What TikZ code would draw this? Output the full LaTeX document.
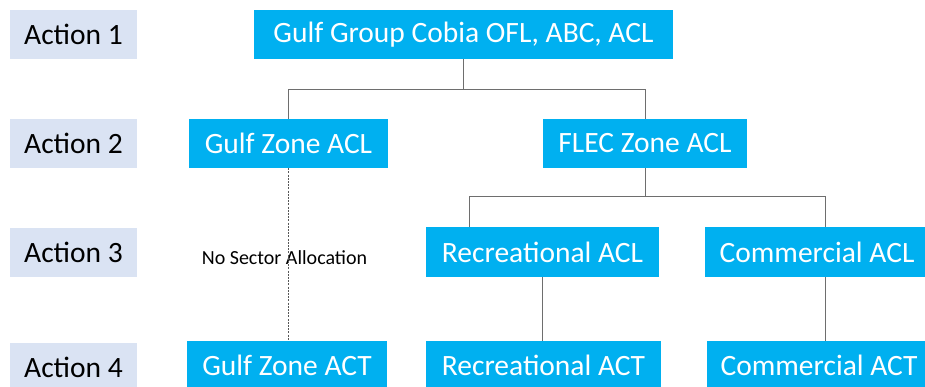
\documentclass[tikz,border=0pt]{standalone}
\usepackage{fontspec}
\setmainfont{Carlito}
\definecolor{boxblue}{HTML}{00B0F0}
\definecolor{actfill}{HTML}{DAE3F3}
\definecolor{linegray}{HTML}{6E6E6E}
\begin{document}
\begin{tikzpicture}[x=1pt,y=-1pt,
  bigtext/.style={font=\fontsize{29.5}{35}\selectfont},
  actbox/.style={bigtext,fill=actfill,text=black,inner sep=0pt,minimum width=127pt,minimum height=49pt},
  bluebox/.style={bigtext,fill=boxblue,text=white,inner sep=0pt,minimum height=49pt},
  conn/.style={draw=linegray,line width=0.9pt},
  dconn/.style={draw=linegray!80!black,line width=0.9pt,dash pattern=on 2pt off 1.2pt}]
\useasboundingbox (0,0) rectangle (925,386);
\clip (0,0) rectangle (925,386);
% action labels
\node[actbox] (a1) at (73.5,34) {Action 1};
\node[actbox] (a2) at (73.5,143.5) {Action 2};
\node[actbox] (a3) at (73.5,252) {Action 3};
\node[actbox] (a4) at (73.5,367.5) {Action 4};
% blue boxes
\node[bluebox,minimum width=419pt] (top) at (463.5,34.5) {Gulf Group Cobia OFL, ABC, ACL};
\node[bluebox,minimum width=199pt] (gzacl) at (288.5,143.5) {Gulf Zone ACL};
\node[bluebox,minimum width=204pt] (flec) at (645,143.5) {FLEC Zone ACL};
\node[bluebox,minimum width=233pt,minimum height=50pt] (recacl) at (542.5,252) {Recreational ACL};
\node[bluebox,minimum width=224pt,minimum height=50pt] (comacl) at (817,252) {Commercial ACL};
\node[bluebox,minimum width=200pt] (gzact) at (287,365.5) {Gulf Zone ACT};
\node[bluebox,minimum width=235pt] (recact) at (543.5,365.5) {Recreational ACT};
\node[bluebox,minimum width=224pt] (comact) at (819,365.5) {Commercial ACT};
% no sector text
\node[font=\fontsize{20}{24}\selectfont,text=black,inner sep=0pt,anchor=base] (nosec) at (284.5,264) {No Sector Allocation};
% connectors
\draw[conn] (top.south) -- ++(0,30) coordinate (j1);
\draw[conn] (gzacl.north) |- (j1) -| (flec.north);
\draw[conn] (flec.south) -- ++(0,28) coordinate (j2);
\draw[conn] ([xshift=44pt]recacl.north west) |- (j2) -| ([xshift=121pt]comacl.north west);
\draw[conn] (recacl.south) -- (recacl.south |- recact.north);
\draw[conn] ([xshift=121pt]comacl.south west) -- ([xshift=121pt]comacl.south west |- comact.north);
\draw[dconn] (gzacl.south) -- (gzacl.south |- gzact.north);
\end{tikzpicture}
\end{document}
